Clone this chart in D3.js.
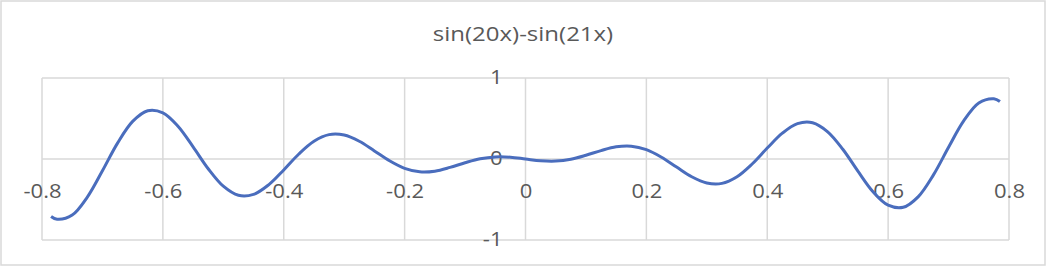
<!DOCTYPE html>
<html>
<head>
<meta charset="utf-8">
<script src="https://cdn.jsdelivr.net/npm/d3@7"></script>
<style>
  body { margin: 0; background: #fff; }
  text { font-family: "Open Sans", sans-serif; fill: #595959; }
</style>
</head>
<body>
<script>
// values
var xValues = [-0.785, -0.775, -0.75, -0.725, -0.7, -0.675, -0.65, -0.625, -0.6, -0.575, -0.55, -0.525,
  -0.5, -0.475, -0.45, -0.425, -0.4, -0.375, -0.35, -0.325, -0.3, -0.275, -0.25, -0.225, -0.2, -0.175,
  -0.15, -0.125, -0.1, -0.075, -0.05, -0.025, 0, 0.025, 0.05, 0.075, 0.1, 0.125, 0.15, 0.175, 0.2,
  0.225, 0.25, 0.275, 0.3, 0.325, 0.35, 0.375, 0.4, 0.425, 0.45, 0.475, 0.5, 0.525, 0.55, 0.575, 0.6,
  0.625, 0.65, 0.675, 0.7, 0.725, 0.75, 0.775, 0.785];
var yValues = [-0.709, -0.744, -0.692, -0.470, -0.145, 0.196, 0.464, 0.596, 0.570, 0.404, 0.150, -0.120,
  -0.336, -0.448, -0.437, -0.319, -0.135, 0.062, 0.219, 0.301, 0.296, 0.219, 0.100, -0.022, -0.115, -0.158,
  -0.150, -0.104, -0.046, 0.003, 0.026, 0.022, 0, -0.022, -0.026, -0.003, 0.046, 0.104, 0.150, 0.158, 0.115,
  0.022, -0.100, -0.219, -0.296, -0.301, -0.219, -0.062, 0.135, 0.319, 0.437, 0.448, 0.336, 0.120, -0.150,
  -0.404, -0.570, -0.596, -0.464, -0.196, 0.145, 0.470, 0.692, 0.744, 0.709];
var xTicks = [-0.8, -0.6, -0.4, -0.2, 0, 0.2, 0.4, 0.6, 0.8];
var xTickLabels = ["-0.8", "-0.6", "-0.4", "-0.2", "0", "0.2", "0.4", "0.6", "0.8"];
var yTicks = [-1, 0, 1];
var yTickLabels = ["-1", "0", "1"];
var title = "sin(20x)-sin(21x)";

var svgWidth = 1048;
var svgHeight = 268;
var tickStretch = 1.13;  // reference text is a bit wider than Open Sans
var titleStretch = 1.2;

var svg = d3.select("body")
  .append("svg")
  .attr("width", svgWidth)
  .attr("height", svgHeight);

// chart border
svg.append("rect")
  .attr("x", 1).attr("y", 1)
  .attr("width", 1044).attr("height", 264)
  .attr("fill", "#fff")
  .attr("stroke", "#d9d9d9")
  .attr("stroke-width", 1.5);

var xScale = d3.scaleLinear().domain([-0.8, 0.8]).range([42, 1009]);
var yScale = d3.scaleLinear().domain([-1, 1]).range([240, 78]);

// gridlines
svg.append("g")
  .selectAll("line")
  .data(xTicks)
  .enter()
  .append("line")
  .attr("x1", d => xScale(d)).attr("x2", d => xScale(d))
  .attr("y1", yScale(1)).attr("y2", yScale(-1))
  .attr("stroke", "#d9d9d9")
  .attr("stroke-width", 1.5);

svg.append("g")
  .selectAll("line")
  .data(yTicks)
  .enter()
  .append("line")
  .attr("x1", xScale(-0.8)).attr("x2", xScale(0.8))
  .attr("y1", d => yScale(d)).attr("y2", d => yScale(d))
  .attr("stroke", "#d9d9d9")
  .attr("stroke-width", 1.5);

// x axis labels
var bottomAxis = d3.axisBottom(xScale)
  .tickValues(xTicks)
  .tickSize(0)
  .tickPadding(25)
  .tickFormat((d, i) => xTickLabels[i]);

var xAxis = svg.append("g")
  .attr("transform", `translate(0, ${yScale(0)})`)
  .call(bottomAxis);
xAxis.select(".domain").remove();
xAxis.selectAll("text")
  .attr("font-family", "Open Sans")
  .style("font-size", "19.5px")
  .attr("fill", "#595959")
  .attr("transform", `scale(${tickStretch},1)`);

// y axis labels
var leftAxis = d3.axisLeft(yScale)
  .tickValues(yTicks)
  .tickSize(0)
  .tickPadding(0)
  .tickFormat((d, i) => yTickLabels[i]);

var yAxis = svg.append("g")
  .attr("transform", `translate(${xScale(0)}, 0)`)
  .call(leftAxis);
yAxis.select(".domain").remove();
yAxis.selectAll("text")
  .attr("x", -23 / tickStretch)
  .attr("dy", "0.3em")
  .attr("font-family", "Open Sans")
  .style("font-size", "19.5px")
  .attr("fill", "#595959")
  .attr("transform", `scale(${tickStretch},1)`);

// the curve
var line = d3.line()
  .x((d, i) => xScale(xValues[i]))
  .y(d => yScale(d))
  .curve(d3.curveCatmullRom.alpha(0.5));

svg.append("path")
  .datum(yValues)
  .attr("d", line)
  .attr("fill", "none")
  .attr("stroke", "#4a6dbd")
  .attr("stroke-width", 3)
  .attr("stroke-linejoin", "round");

svg.append("text")
  .attr("transform", `translate(523, 41) scale(${titleStretch},1)`)
  .attr("text-anchor", "middle")
  .style("font-size", "20px")
  .text(title);
</script>
</body>
</html>
